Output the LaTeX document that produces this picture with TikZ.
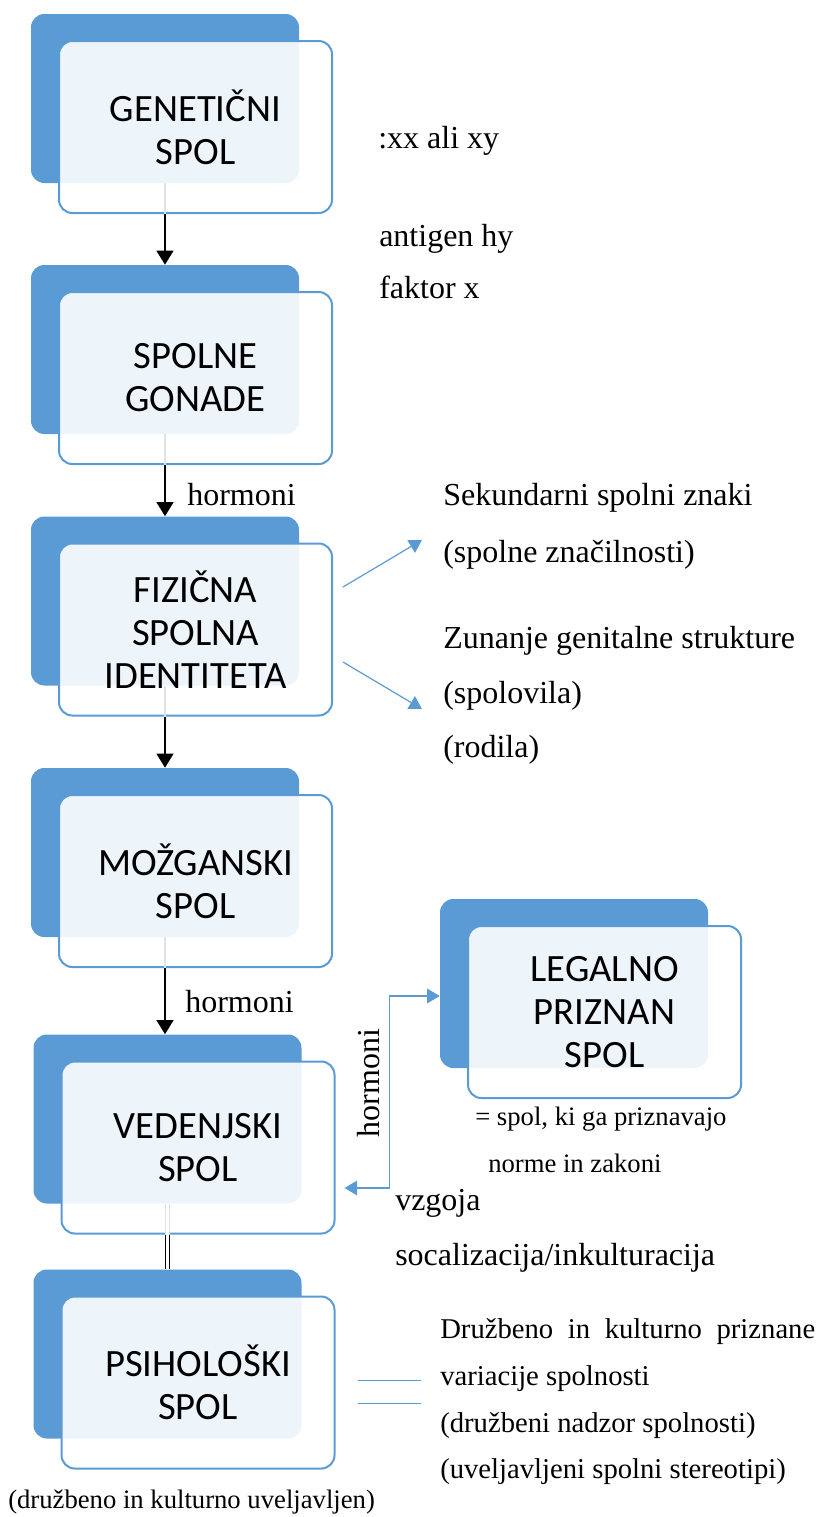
\documentclass[tikz,border=0pt]{standalone}
\usepackage{fontspec}
\setmainfont{Liberation Serif}
\newfontfamily\boxfont{Carlito}
\usetikzlibrary{arrows.meta,positioning}
\definecolor{accent}{HTML}{5B9BD5}
\definecolor{faint}{HTML}{E2E2E2}
\tikzset{
  backbox/.style   = {rectangle, rounded corners=10pt, fill=accent, inner sep=0pt,
                      minimum width=201pt, minimum height=126.75pt},
  frontbox/.style  = {rectangle, rounded corners=10pt, draw=accent, line width=1.5pt,
                      fill=white, fill opacity=0.9, text opacity=1, inner sep=0pt,
                      minimum width=204.75pt, minimum height=129pt, align=center,
                      font=\boxfont\fontsize{29}{32.3}\selectfont},
  sidetext/.style  = {anchor=base west, inner sep=0pt, font=\fontsize{24}{28}\selectfont},
  smalltext/.style = {sidetext, font=\fontsize{21.5}{25}\selectfont},
  tinytext/.style  = {sidetext, font=\fontsize{20}{24}\selectfont},
  blueline/.style  = {draw=accent, line width=0.9pt},
  fade/.style      = {draw=faint, line width=1.5pt}
}
\begin{document}
\begin{tikzpicture}[x=0.75pt, y=-0.75pt, >={Triangle[width=11pt,length=9.5pt]}]
\useasboundingbox (0,0) rectangle (819,1517);

% back plates, at coordinates
\node[backbox] (b1) at (165,98.5) {};
\node[backbox] (b2) at (165,349.5) {};
\node[backbox] (b3) at (165,601) {};
\node[backbox] (b4) at (165,852.5) {};
\node[backbox] (b5) at (167.5,1119) {};
\node[backbox] (b6) at (167.5,1354) {};
\node[backbox] (bl) at (574,983.5) {};

% front boxes, shifted from their plates
\node[frontbox] (f1) at ([shift={(30.5,28.5)}]b1) {GENETIČNI\\SPOL};
\node[frontbox] (f2) at ([shift={(30.5,28.5)}]b2) {SPOLNE\\GONADE};
\node[frontbox] (f3) at ([shift={(30.5,28.5)}]b3) {FIZIČNA\\SPOLNA\\IDENTITETA};
\node[frontbox] (f4) at ([shift={(30.5,28.5)}]b4) {MOŽGANSKI\\SPOL};
\node[frontbox] (f5) at ([shift={(30.5,28.5)}]b5) {VEDENJSKI\\SPOL};
\node[frontbox] (f6) at ([shift={(30.5,28.5)}]b6) {PSIHOLOŠKI\\SPOL};
\node[frontbox] (fl) at ([shift={(30.5,28.5)}]bl) {LEGALNO\\PRIZNAN\\SPOL};

% main chain
\foreach \a/\b in {1/2,2/3,3/4,4/5}{
  \draw[fade] (b\a.south) -- (b\a.south |- f\a.south);
  \draw[-{Triangle[width=12.5pt,length=10.5pt]}, line width=1.5pt]
    (b\a.south |- f\a.south) -- (b\a.south |- b\b.north);
}
\draw[draw=faint, double=white, double distance=1.9pt, line width=1.1pt]
  (b5.south) -- (b5.south |- f5.south);
\draw[draw=black, double=white, double distance=1.9pt, line width=1.1pt]
  (b5.south |- f5.south) -- (b5.south |- b6.north);

\node[sidetext] (h1) at (187,505) {hormoni};
\node[sidetext] (h2) at (185,1012) {hormoni};

% texts on the right
\node[sidetext] (xx)  at (378,148) {:xx ali xy};
\node[sidetext] (ant) at (379,246) {antigen hy};
\node[sidetext] (fak) at (379,298) {faktor x};
\node[sidetext] (sek) at (443,505) {Sekundarni spolni znaki};
\node[sidetext] (zna) at (443,562) {(spolne značilnosti)};
\node[sidetext] (zun) at (443,648) {Zunanje genitalne strukture};
\node[sidetext] (spo) at (443,703) {(spolovila)};
\node[sidetext] (rod) at (443,757) {(rodila)};

\draw[blueline,->] ([shift={(10,-42.5)}]f3.east) -- ([shift={(-21,35)}]sek.base west);
\draw[blueline,->] ([shift={(10,32.5)}]f3.east) -- ([shift={(-21,6)}]spo.base west);

% legal side
\node[tinytext] (pri) at (475,1125) {= spol, ki ga priznavajo};
\node[tinytext] (nor) at (488,1172) {norme in zakoni};
\node[sidetext, anchor=center, rotate=90] (h3) at (369,1083) {hormoni};
\draw[blueline,<->] ([shift={(9,40.5)}]f5.east) -| ([shift={(-50,12.5)}]bl.west)
  -- ([shift={(0,12.5)}]bl.west);
\node[sidetext] (vzg) at (395,1210) {vzgoja};
\node[sidetext] (soc) at (395,1265) {socalizacija/inkulturacija};

% bottom notes
\draw[blueline] ([shift={(22,-2)}]f6.east) -- ++(63,0);
\draw[blueline] ([shift={(22,21)}]f6.east) -- ++(63,0);
\node[smalltext] (d1) at (440,1338) {\makebox[281.25pt][s]{Družbeno in kulturno priznane}};
\node[smalltext] (d2) at (440,1385) {variacije spolnosti};
\node[smalltext] (d3) at (440,1432) {(družbeni nadzor spolnosti)};
\node[smalltext] (d4) at (440,1478) {(uveljavljeni spolni stereotipi)};
\node[tinytext] (kul) at (8,1508) {(družbeno in kulturno uveljavljen)};
\end{tikzpicture}
\end{document}
